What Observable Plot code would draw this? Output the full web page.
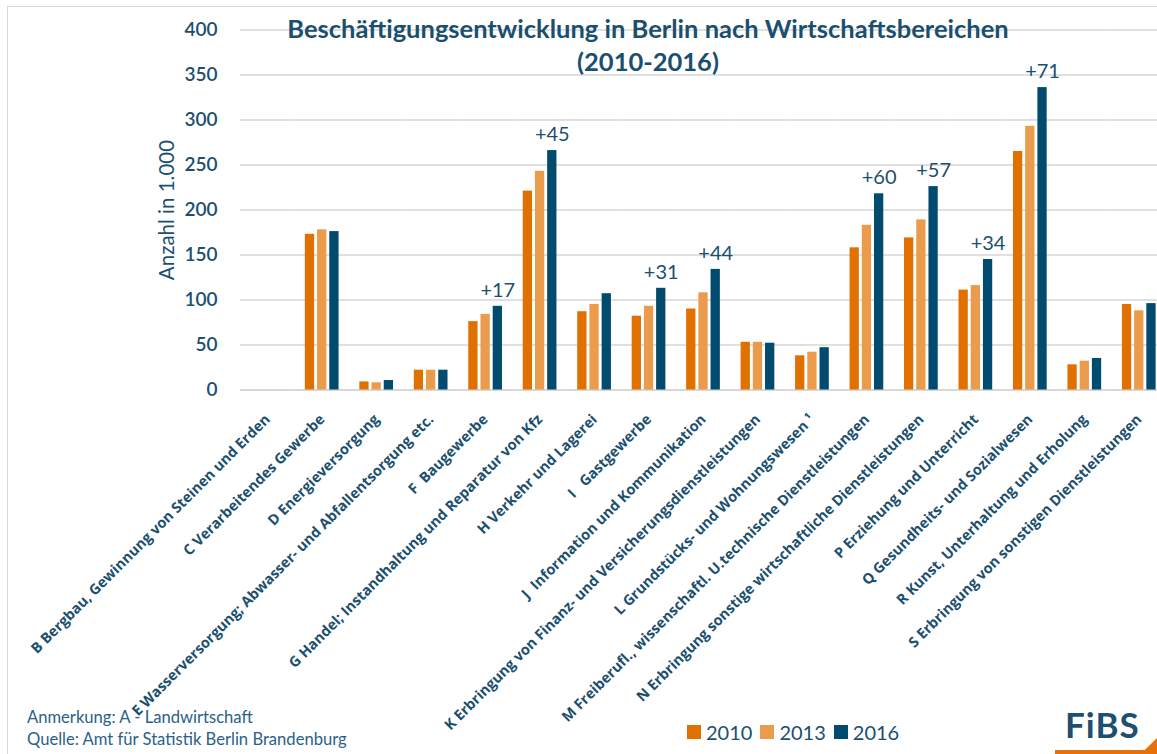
<!DOCTYPE html>
<html><head><meta charset="utf-8">
<script src="https://cdn.jsdelivr.net/npm/d3@7"></script>
<script src="https://cdn.jsdelivr.net/npm/@observablehq/plot@0.6"></script>
<style>
  html,body{margin:0;padding:0;background:#fff;}
  body{width:1157px;height:754px;position:relative;overflow:hidden;font-family:Lato,"Noto Sans",sans-serif;color:#1d4e6e;}
  #border{position:absolute;left:7px;top:6px;width:1300px;height:900px;border:1.5px solid #d9d9d9;box-sizing:border-box;}
  #chart{position:absolute;left:0;top:0;}
  #title{position:absolute;left:148px;width:1000px;top:12px;text-align:center;font-size:25.5px;font-weight:700;line-height:33px;color:#1b4f6f;}
  #ylabel{position:absolute;left:166px;top:210px;transform:translate(-50%,-50%) rotate(-90deg);white-space:nowrap;font-size:20.5px;font-weight:400;color:#1b4f6f;}
  #notes{position:absolute;left:27px;top:706px;font-size:16.6px;line-height:22px;color:#2a6188;}
  #legend{position:absolute;left:687px;top:720px;display:flex;align-items:center;font-size:20px;color:#1b4f6f;}
  #legend span.sw{display:inline-block;width:14px;height:14px;margin-right:5px;}
  #legend span.lab{margin-right:8px;}
  #logo{position:absolute;left:1065px;top:703px;font-size:35px;font-weight:700;color:#1e4f6e;letter-spacing:1px;}
  #swoosh{position:absolute;left:1055px;top:738px;width:102px;height:16px;background:#e8700a;clip-path:polygon(0 75%,88% 75%,100% 0,100% 100%,0 100%);}
</style></head><body>
<div id="border"></div>
<div id="chart"></div>
<div id="title">Beschäftigungsentwicklung in Berlin nach Wirtschaftsbereichen<br>(2010-2016)</div>
<div id="ylabel">Anzahl in 1.000</div>
<div id="notes">Anmerkung: A - Landwirtschaft<br>Quelle: Amt für Statistik Berlin Brandenburg</div>
<div id="legend"></div>
<div id="logo">FiBS</div>
<div id="swoosh"></div>
<script>
const categories = [
  "B Bergbau, Gewinnung von Steinen und Erden",
  "C Verarbeitendes Gewerbe",
  "D Energieversorgung",
  "E Wasserversorgung; Abwasser- und Abfallentsorgung etc.",
  "F\u00a0 Baugewerbe",
  "G Handel; Instandhaltung und Reparatur von Kfz",
  "H Verkehr und Lagerei",
  "I\u00a0\u00a0 Gastgewerbe",
  "J\u00a0 Information und Kommunikation",
  "K Erbringung von Finanz- und Versicherungsdienstleistungen",
  "L Grundstücks- und Wohnungswesen ¹",
  "M Freiberufl., wissenschaftl. U.technische Dienstleistungen",
  "N Erbringung sonstige wirtschaftliche Dienstleistungen",
  "P Erziehung und Unterricht",
  "Q Gesundheits- und Sozialwesen",
  "R Kunst, Unterhaltung und Erholung",
  "S Erbringung von sonstigen Dienstleistungen"
];
const years = ["2010", "2013", "2016"];
const v2010 = [null, 173, 9, 22, 76, 221, 87, 82, 90, 53, 38, 158, 169, 111, 265, 28, 95];
const v2013 = [null, 178, 8, 22, 84, 243, 95, 93, 108, 53, 42, 183, 189, 116, 293, 32, 88];
const v2016 = [null, 176, 10.5, 22, 93, 266, 107, 113, 134, 52, 47, 218, 226, 145, 336, 35, 96];
const changes = [null, null, null, null, "+17", "+45", null, "+31", "+44", null, null, "+60", "+57", "+34", "+71", null, null];
const yTicks = [0, 50, 100, 150, 200, 250, 300, 350, 400];
const colors = ["#e07000", "#eb9b4c", "#004b6e"];

const series = [v2010, v2013, v2016];
const rows = categories.flatMap((c, i) => years.map((y, j) => ({category: c, year: y, value: series[j][i]})))
  .filter(d => d.value != null);
const labelRows = categories.map((c, i) => ({category: c, year: "2016", value: v2016[i], text: changes[i]}))
  .filter(d => d.text != null);

const textColor = "#1b4f6f";
const chart = Plot.plot({
  width: 1157,
  height: 754,
  marginTop: 29.5,
  marginBottom: 364.5,
  marginLeft: 240,
  marginRight: -9,
  style: {fontFamily: "Lato, 'Noto Sans', sans-serif", background: "transparent", color: textColor},
  fx: {domain: categories, padding: 0, round: false},
  x: {domain: years, paddingInner: 0.24, paddingOuter: 0.85, round: false},
  y: {domain: [0, 400]},
  color: {domain: years, range: colors},
  marks: [
    Plot.gridY(yTicks, {stroke: "#d6d6d6", strokeOpacity: 1, strokeWidth: 1.5}),
    Plot.ruleY(categories, {fx: d => d, y: 0, stroke: "#d6d6d6", strokeWidth: 1.5}),
    Plot.axisY(yTicks, {tickSize: 0, tickPadding: 23, fontSize: 19, fontWeight: 600, fill: textColor, label: null}),
    Plot.axisFx({anchor: "bottom", tickRotate: -45, tickSize: 0, tickPadding: 27, fontSize: 14.5, fontWeight: 700, fontFamily: "'Open Sans', sans-serif", fill: textColor, label: null}),
    Plot.axisX({ticks: [], label: null}),
    Plot.barY(rows, {fx: "category", x: "year", y: "value", fill: "year"}),
    Plot.text(labelRows, {fx: "category", x: "year", y: "value", text: "text", dy: -16, fontSize: 20, fill: textColor})
  ]
});
document.getElementById("chart").appendChild(chart);

const legend = document.getElementById("legend");
years.forEach((y, i) => {
  const sw = document.createElement("span");
  sw.className = "sw"; sw.style.background = colors[i];
  const lab = document.createElement("span");
  lab.className = "lab"; lab.textContent = y;
  legend.appendChild(sw); legend.appendChild(lab);
});
</script>
</body></html>
